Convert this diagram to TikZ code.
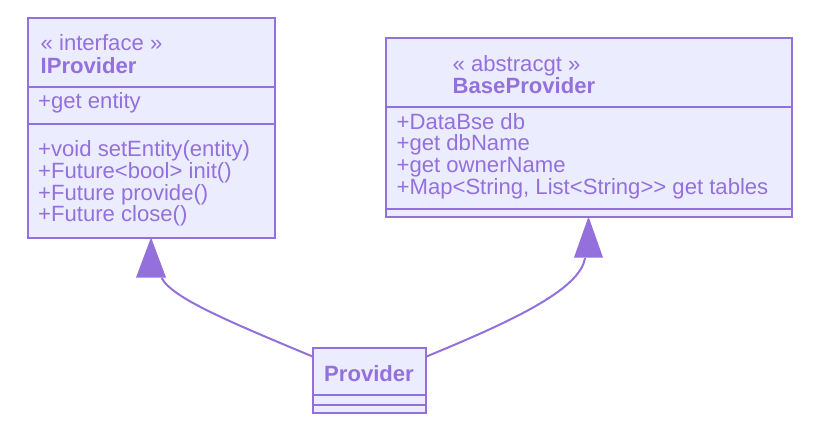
\documentclass[tikz,border=0pt]{standalone}
\usepackage{fontspec}
\setmainfont{Liberation Sans}
\definecolor{mfill}{HTML}{ECECFF}
\definecolor{mline}{HTML}{9370DB}
\begin{document}
\begin{tikzpicture}[x=1pt,y=-1pt,
  box/.style={draw=mline,fill=mfill,line width=2pt,inner sep=0pt,outer sep=0pt},
  divider/.style={draw=mline,line width=2pt},
  txt/.style={text=mline,anchor=base west,inner sep=0pt,font=\fontsize{22.1}{21.7}\selectfont},
  btxt/.style={txt,font=\fontsize{22.1}{21.7}\selectfont\bfseries},
  link/.style={draw=mline,line width=2pt},
  tip/.style={fill=mline}]
\useasboundingbox (0,0) rectangle (817,444);
% IProvider
\node[box,minimum width=247pt,minimum height=219pt] (ip) at (151,128) {};
\draw[divider] (ip.west |- 0,87.3) -- (ip.east |- 0,87.3);
\draw[divider] (ip.west |- 0,123.5) -- (ip.east |- 0,123.5);
\node[txt] (ip1) at (40.5,51) {« interface »};
\node[btxt] (ip2) at (40.5,73.3) {IProvider};
\node[txt] (ip3) at (38,108.5) {+get entity};
\node[txt] (ip4) at (38,156.7) {+void setEntity(entity)};
\node[txt] (ip5) at (38,178.4) {+Future<bool> init()};
\node[txt] (ip6) at (38,200.1) {+Future provide()};
\node[txt] (ip7) at (38,221.8) {+Future close()};
% BaseProvider
\node[box,minimum width=406pt,minimum height=178.5pt] (bp) at (588.5,127.3) {};
\draw[divider] (bp.west |- 0,107.3) -- (bp.east |- 0,107.3);
\draw[divider] (bp.west |- 0,209) -- (bp.east |- 0,209);
\node[txt] (bp1) at (452.5,71.7) {« abstracgt »};
\node[btxt] (bp2) at (452.5,93.3) {BaseProvider};
\node[txt] (bp3) at (396.5,129) {+DataBse db};
\node[txt] (bp4) at (396.5,150.7) {+get dbName};
\node[txt] (bp5) at (396.5,172.4) {+get ownerName};
\node[txt] (bp6) at (396.5,194.1) {+Map<String, List<String>{}> get tables};
% Provider
\node[box,minimum width=113pt,minimum height=65.5pt] (pr) at (369.5,380.3) {};
\draw[divider] (pr.west |- 0,394.7) -- (pr.east |- 0,394.7);
\draw[divider] (pr.west |- 0,405.3) -- (pr.east |- 0,405.3);
\node[btxt,anchor=base] (pr1) at (369,381.7) {Provider};
% connectors
\coordinate (lb) at (161.7,278);
\coordinate (rb) at (585,258);
\draw[link] (pr.west |- 0,356.7) .. controls (230,322) and (172,298) .. (lb);
\draw[link] (pr.east |- 0,356.7) .. controls (510,322) and (580,290) .. (rb);
\fill[tip] (ip.south) -- ++(-15,40) -- ++(30,0) -- cycle;
\fill[tip] (bp.south) -- ++(-14.5,41) -- ++(29,0) -- cycle;
\end{tikzpicture}
\end{document}
